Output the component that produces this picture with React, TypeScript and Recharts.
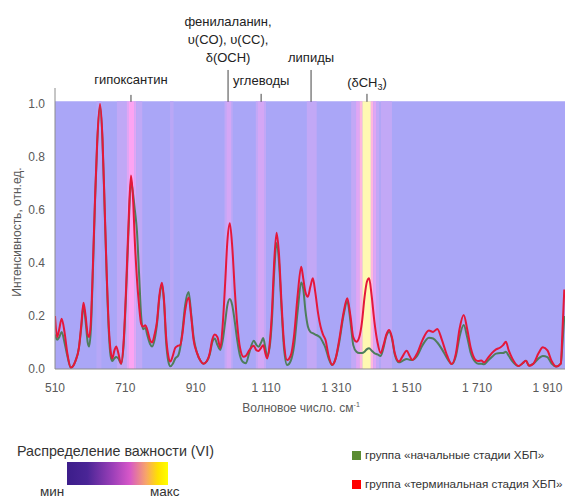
import { LineChart, Line, XAxis, YAxis, ReferenceArea, ReferenceLine } from 'recharts'

// wavenumber, cm-1
const wavenumbers = [
  510, 516, 522, 529, 537, 545, 555, 568, 578, 585, 591, 597, 603, 607, 612, 618, 624, 630, 638, 645,
  651, 657, 663, 668, 673, 679, 684, 690, 698, 705, 712, 719, 726, 732, 737, 743, 749, 755, 760, 767,
  772, 780, 786, 793, 800, 807, 814, 820, 826, 832, 838, 845, 852, 860, 866, 872, 880, 890, 897, 904,
  914, 924, 932, 942, 950, 957, 964, 972, 980, 987, 994, 1000, 1007, 1014, 1021, 1028, 1036, 1046, 1053, 1062,
  1075, 1083, 1089, 1096, 1102, 1108, 1113, 1120, 1127, 1133, 1140, 1147, 1154, 1161, 1170, 1180, 1190, 1200, 1210, 1216,
  1222, 1229, 1236, 1243, 1250, 1258, 1265, 1272, 1279, 1288, 1298, 1308, 1318, 1330, 1341, 1350, 1358, 1367, 1375, 1383,
  1390, 1397, 1403, 1410, 1418, 1427, 1436, 1444, 1452, 1460, 1468, 1476, 1488, 1497, 1510, 1518, 1526, 1540, 1555, 1573,
  1585, 1597, 1610, 1625, 1638, 1650, 1660, 1672, 1682, 1692, 1706, 1714, 1722, 1730, 1740, 1752, 1764, 1776, 1784, 1792,
  1800, 1810, 1828, 1838, 1849, 1858, 1870, 1885, 1897, 1910, 1922, 1935, 1948, 1953, 1958,
]

// группа «терминальная стадия ХБП»
const terminal = [
  0.2, 0.12, 0.15, 0.19, 0.14, 0.06, 0.005, 0.03, 0.08, 0.17, 0.25, 0.2, 0.13, 0.12, 0.18, 0.4, 0.65, 0.86, 1.0, 0.87,
  0.62, 0.36, 0.16, 0.07, 0.04, 0.07, 0.085, 0.06, 0.02, 0.1, 0.3, 0.55, 0.73, 0.64, 0.48, 0.34, 0.24, 0.17, 0.16, 0.165,
  0.15, 0.11, 0.1, 0.13, 0.18, 0.28, 0.325, 0.26, 0.12, 0.05, 0.028, 0.05, 0.08, 0.088, 0.09, 0.13, 0.22, 0.27, 0.2, 0.11,
  0.06, 0.03, 0.02, 0.03, 0.06, 0.11, 0.13, 0.12, 0.08, 0.17, 0.33, 0.48, 0.55, 0.46, 0.3, 0.17, 0.08, 0.046, 0.05, 0.07,
  0.088, 0.07, 0.068, 0.08, 0.09, 0.06, 0.04, 0.09, 0.22, 0.4, 0.514, 0.43, 0.25, 0.1, 0.034, 0.05, 0.13, 0.28, 0.386, 0.34,
  0.29, 0.273, 0.31, 0.342, 0.29, 0.21, 0.16, 0.13, 0.11, 0.05, 0.016, 0.04, 0.11, 0.21, 0.267, 0.2, 0.12, 0.103, 0.12, 0.18,
  0.27, 0.33, 0.342, 0.28, 0.18, 0.1, 0.06, 0.09, 0.13, 0.147, 0.12, 0.06, 0.028, 0.045, 0.069, 0.05, 0.034, 0.06, 0.11, 0.145,
  0.14, 0.151, 0.11, 0.05, 0.019, 0.06, 0.15, 0.204, 0.15, 0.08, 0.034, 0.03, 0.032, 0.025, 0.04, 0.06, 0.074, 0.081, 0.09, 0.103,
  0.07, 0.04, 0.011, 0.02, 0.031, 0.012, 0.02, 0.06, 0.082, 0.07, 0.03, 0.009, 0.02, 0.15, 0.3,
]

// группа «начальные стадии ХБП»
const initial = [
  0.13, 0.11, 0.12, 0.14, 0.1, 0.05, 0.005, 0.03, 0.08, 0.16, 0.24, 0.18, 0.1, 0.085, 0.15, 0.38, 0.64, 0.85, 0.99, 0.86,
  0.61, 0.35, 0.14, 0.05, 0.03, 0.04, 0.045, 0.04, 0.02, 0.09, 0.28, 0.52, 0.71, 0.66, 0.6, 0.52, 0.36, 0.2, 0.15, 0.155,
  0.13, 0.095, 0.085, 0.11, 0.17, 0.27, 0.32, 0.25, 0.1, 0.03, 0.01, 0.02, 0.04, 0.05, 0.08, 0.14, 0.24, 0.29, 0.21, 0.12,
  0.06, 0.03, 0.02, 0.03, 0.055, 0.1, 0.115, 0.09, 0.072, 0.11, 0.18, 0.24, 0.264, 0.24, 0.18, 0.11, 0.05, 0.025, 0.022, 0.06,
  0.107, 0.09, 0.084, 0.1, 0.117, 0.08, 0.05, 0.08, 0.19, 0.36, 0.475, 0.4, 0.23, 0.08, 0.015, 0.03, 0.09, 0.22, 0.326, 0.3,
  0.22, 0.16, 0.14, 0.135, 0.13, 0.125, 0.117, 0.1, 0.08, 0.04, 0.015, 0.04, 0.1, 0.2, 0.255, 0.18, 0.09, 0.065, 0.06, 0.06,
  0.065, 0.075, 0.078, 0.07, 0.06, 0.055, 0.049, 0.08, 0.125, 0.14, 0.115, 0.055, 0.025, 0.03, 0.038, 0.035, 0.034, 0.05, 0.09, 0.118,
  0.115, 0.1, 0.075, 0.04, 0.019, 0.05, 0.12, 0.166, 0.12, 0.06, 0.025, 0.02, 0.02, 0.018, 0.03, 0.045, 0.058, 0.06, 0.06, 0.065,
  0.05, 0.03, 0.011, 0.02, 0.031, 0.012, 0.02, 0.04, 0.049, 0.045, 0.02, 0.009, 0.02, 0.1, 0.2,
]

const xTicks = [510, 710, 910, 1110, 1310, 1510, 1710, 1910]
const yTicks = [0, 0.2, 0.4, 0.6, 0.8, 1.0]

// распределение важности (VI): [от, до, уровень 0..1]
const importanceBands: [number, number, number][] = [
  [628, 642, 0.15],
  [686, 714, 0.28],
  [714, 719, 0.5],
  [719, 735, 0.72],
  [735, 741, 0.5],
  [741, 758, 0.28],
  [837, 847, 0.2],
  [992, 997, 0.3],
  [997, 1011, 0.42],
  [1011, 1015, 0.3],
  [1081, 1086, 0.3],
  [1086, 1106, 0.42],
  [1106, 1110, 0.3],
  [1226, 1254, 0.3],
  [1352, 1366, 0.3],
  [1366, 1376, 0.5],
  [1376, 1384, 0.78],
  [1384, 1408, 1.0],
  [1408, 1415, 0.78],
  [1415, 1424, 0.5],
  [1424, 1432, 0.3],
  [1436, 1468, 0.3],
]

const annotations = [
  { x: 726, top: 1.034, lines: ['гипоксантин'], gap: 11 },
  { x: 1002, top: 1.128, lines: ['фенилаланин,', 'υ(CO), υ(CC),', 'δ(OCH)'], gap: 8 },
  { x: 1096, top: 1.038, lines: ['углеводы'], gap: 9 },
  { x: 1238, top: 1.128, lines: ['липиды'], gap: 8 },
  { x: 1397, top: 1.038, lines: ['(δCH3)'], gap: 7 },
]

const data = wavenumbers.map((w, i) => ({ w, terminal: terminal[i], initial: initial[i] }))

const colorStops: [number, number[]][] = [
  [0, [170, 166, 247]],
  [0.3, [194, 168, 246]],
  [0.5, [224, 166, 244]],
  [0.72, [252, 164, 242]],
  [0.86, [255, 206, 200]],
  [1, [255, 249, 178]],
]

function viColor(level: number) {
  for (let i = 1; i < colorStops.length; i++) {
    const [l1, c1] = colorStops[i]
    const [l0, c0] = colorStops[i - 1]
    if (level <= l1) {
      const t = (level - l0) / (l1 - l0)
      const c = c0.map((v, k) => Math.round(v + (c1[k] - v) * t))
      return `rgb(${c[0]},${c[1]},${c[2]})`
    }
  }
  return 'rgb(255,249,178)'
}

const fmtX = (v: number) => (v >= 1000 ? `${Math.floor(v / 1000)} ${String(v % 1000).padStart(3, '0')}` : String(v))

function annoLabel(lines: string[], gap: number) {
  return (props: any) => {
    const { x, y } = props.viewBox
    const n = lines.length
    return (
      <text x={x} y={y - gap} textAnchor="middle" fontSize={13} fill="#222" fontFamily="Liberation Sans, Arial, sans-serif">
        {lines.map((l, i) => {
          const dy = i === 0 ? -(n - 1) * 18 : 18
          if (l === '(δCH3)') {
            return (
              <tspan key={i} x={x} dy={dy}>
                (δCH<tspan fontSize={9} dy={3}>3</tspan>
                <tspan dy={-3}>)</tspan>
              </tspan>
            )
          }
          return (
            <tspan key={i} x={x} dy={dy}>
              {l}
            </tspan>
          )
        })}
      </text>
    )
  }
}

const font = 'Liberation Sans, Arial, sans-serif'

export default function App() {
  return (
    <div style={{ position: 'absolute', left: 0, top: 0, width: 566, height: 500, background: '#fff', fontFamily: font, overflow: 'hidden' }}>
      <LineChart width={566} height={500} data={data} margin={{ top: 88, right: 1, bottom: 0, left: 0 }}>
        <XAxis
          dataKey="w"
          type="number"
          domain={[510, 1960]}
          ticks={xTicks}
          tickFormatter={fmtX}
          height={131}
          tickLine={false}
          tickMargin={8}
          axisLine={{ stroke: '#8c8c8c' }}
          tick={{ fontSize: 12, fill: '#595959', fontFamily: font }}
          allowDataOverflow
        />
        <YAxis
          type="number"
          domain={[0, 1.06]}
          ticks={yTicks}
          tickFormatter={(v: number) => v.toFixed(1)}
          width={55}
          tickLine={false}
          tickMargin={4}
          axisLine={{ stroke: '#8c8c8c' }}
          tick={{ fontSize: 12, fill: '#595959', fontFamily: font }}
          allowDataOverflow
        />
        <ReferenceArea x1={510} x2={1960} y1={0} y2={1.01} fill={viColor(0)} fillOpacity={1} stroke="none" />
        {importanceBands.map(([a, b, lvl], i) => (
          <ReferenceArea key={i} x1={a} x2={b} y1={0} y2={1.01} fill={viColor(lvl)} fillOpacity={1} stroke="none" />
        ))}
        {annotations.map((a, i) => (
          <ReferenceLine
            key={i}
            segment={[{ x: a.x, y: 1.008 }, { x: a.x, y: a.top }]}
            stroke="#444"
            strokeWidth={1}
            ifOverflow="visible"
            label={annoLabel(a.lines, a.gap)}
          />
        ))}
        <Line dataKey="initial" type="monotone" stroke="#4e7d5c" strokeWidth={2} dot={false} isAnimationActive={false} />
        <Line dataKey="terminal" type="monotone" stroke="#e5173a" strokeWidth={2} dot={false} isAnimationActive={false} />
      </LineChart>

      <div style={{ position: 'absolute', left: 17, top: 232, transform: 'translate(-50%, -50%) rotate(-90deg)', whiteSpace: 'nowrap', fontSize: 12, color: '#595959' }}>
        Интенсивность, отн.ед.
      </div>
      <div style={{ position: 'absolute', left: 301, top: 408, transform: 'translate(-50%, -50%)', whiteSpace: 'nowrap', fontSize: 12, color: '#595959' }}>
        Волновое число. см<sup style={{ fontSize: 7 }}>-1</sup>
      </div>

      <div style={{ position: 'absolute', left: 17, top: 443, fontSize: 14.3, color: '#333', whiteSpace: 'nowrap' }}>Распределение важности (VI)</div>
      <div
        style={{
          position: 'absolute',
          left: 67,
          top: 462,
          width: 101,
          height: 23,
          background: 'linear-gradient(to right, #3c1d8a 0%, #4a2596 20%, #9b3fb8 45%, #d657c8 62%, #f7a36c 78%, #ffe100 90%, #ffff00 100%)',
        }}
      />
      <div style={{ position: 'absolute', left: 40, top: 485, fontSize: 13.5, lineHeight: '14px', color: '#333' }}>мин</div>
      <div style={{ position: 'absolute', left: 150, top: 485, fontSize: 13.5, lineHeight: '14px', color: '#333' }}>макс</div>

      <div style={{ position: 'absolute', left: 352, top: 451, width: 9, height: 9, background: '#5b8c32' }} />
      <div style={{ position: 'absolute', left: 365, top: 448, fontSize: 11.7, color: '#333', whiteSpace: 'nowrap' }}>группа «начальные стадии ХБП»</div>
      <div style={{ position: 'absolute', left: 352, top: 480, width: 9, height: 9, background: '#ff0000' }} />
      <div style={{ position: 'absolute', left: 365, top: 477, fontSize: 11.7, color: '#333', whiteSpace: 'nowrap' }}>группа «терминальная стадия ХБП»</div>
    </div>
  )
}
